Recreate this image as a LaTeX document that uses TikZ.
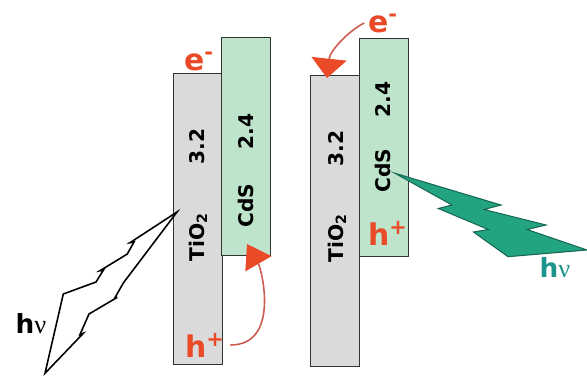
\documentclass[tikz,border=0pt]{standalone}
\usepackage{fontspec}
\setmainfont{DejaVu Sans}
\newfontfamily\greekfont{Liberation Serif}
\usetikzlibrary{arrows.meta}

\definecolor{tiogray}{RGB}{218,218,218}
\definecolor{cdsgreen}{RGB}{190,228,204}
\definecolor{carrierred}{RGB}{234,74,40}
\definecolor{hoppath}{RGB}{204,92,80}
\definecolor{boltteal}{RGB}{34,164,128}
\definecolor{boltedge}{RGB}{22,104,84}
\definecolor{hvteal}{RGB}{28,150,140}

\begin{document}
\begin{tikzpicture}[x=0.02cm,y=-0.02cm,
    band/.style={draw=black!80, line width=0.7pt, minimum width=0.98cm, anchor=north west, inner sep=0},
    tio/.style={band, fill=tiogray, minimum height=5.82cm},
    cds/.style={band, fill=cdsgreen, minimum height=4.36cm},
    gaplabel/.style={font=\fontsize{11.5}{12}\selectfont\bfseries, rotate=90, anchor=base west, inner sep=0},
    carrier/.style={font=\fontsize{17}{18}\selectfont\bfseries, text=carrierred, inner sep=0},
    photon/.style={font=\fontsize{15}{16}\selectfont, inner sep=0},
    hop/.style={draw=hoppath, line width=0.9pt},
    hopL/.style={hop, -{Triangle[length=13pt,width=17pt,color=carrierred,fill=carrierred]}},
    hopR/.style={hop, -{Triangle[length=11pt,width=20pt,color=carrierred,fill=carrierred]}},
    boltline/.style={draw=black, line width=0.9pt, fill=white, line join=miter},
    boltfill/.style={draw=boltedge, line width=0.6pt, fill=boltteal, line join=miter}
]
\useasboundingbox (0,0) rectangle (587,378);

% left couple: light on TiO2
\node[tio] (tioL) at (173,73) {};
\node[cds] (cdsL) at (221,37) {};
\node[gaplabel] (tioLname) at (204,262) {TiO\textsubscript{2}};
\node[gaplabel] (tioLgap) at (204,165) {3.2};
\node[gaplabel] (cdsLname) at (253,228) {CdS};
\node[gaplabel] (cdsLgap) at (253,150) {2.4};

% right couple: light on CdS
\node[tio] (tioR) at (310,75) {};
\node[cds] (cdsR) at (359,38) {};
\node[gaplabel] (tioRname) at (343,263) {TiO\textsubscript{2}};
\node[gaplabel] (tioRgap) at (343,167) {3.2};
\node[gaplabel] (cdsRname) at (390,193) {CdS};
\node[gaplabel] (cdsRgap) at (390,118) {2.4};

% charge carriers
\node[carrier] (eL) at (199,61) {e\textsuperscript{-}};
\node[carrier] (hL) at (205,345) {h\textsuperscript{+}};
\node[carrier] (eR) at (383,23) {e\textsuperscript{-}};
\node[carrier] (hR) at (388,233) {h\textsuperscript{+}};

% transfer arrows
\coordinate (hitL) at (247,244);
\coordinate (hitR) at (327,78);
\draw[hopL] ([xshift=3pt]hL.east) .. controls (280,345) and (262,270) .. (hitL);
\draw[hopR] ([xshift=-2pt]eR.west) .. controls (350,30) and (330,50) .. (hitR);

% lightning bolts
\draw[boltline] (177,212) -- (130,242.7) -- (134,242) -- (127.3,254) -- (100,270.7)
  -- (103.5,270) -- (96,282) -- (63.3,294) -- (45,373.3) -- (83.3,333.3) -- (80,334.5)
  -- (89,314) -- (117.3,297.3) -- (114.5,298.5) -- (123.3,283) -- cycle;
\draw[boltfill] (395,173.3) -- (501,205) -- (484,209.5) -- (546,225) -- (527,229.5)
  -- (587,250) -- (508,256.7) -- (473.5,232) -- (488.3,229.5) -- (438.3,208.5)
  -- (452,205) -- cycle;

\node[photon] (hvL) at (31,324) {\textbf{h}{\greekfont ν}};
\node[photon, text=hvteal] (hvR) at (555,268) {\textbf{h}{\greekfont ν}};

\end{tikzpicture}
\end{document}
